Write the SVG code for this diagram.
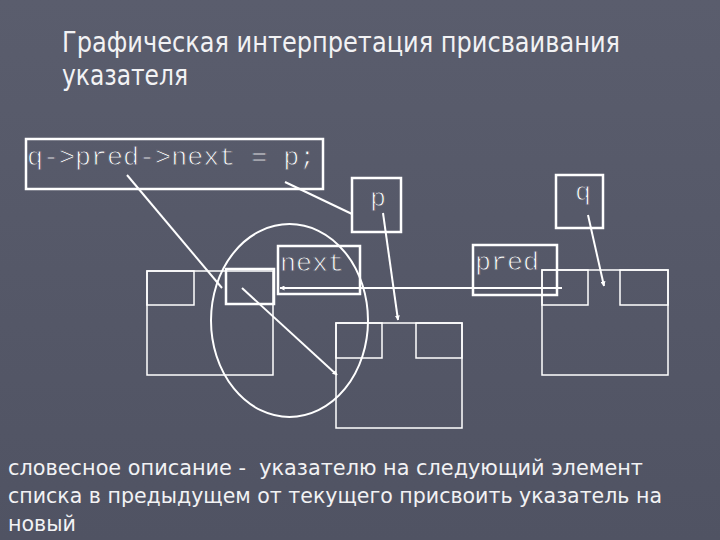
<svg xmlns="http://www.w3.org/2000/svg" width="720" height="540" viewBox="0 0 720 540">
<defs>
<marker id="ah" viewBox="0 0 10 10" refX="9" refY="5" markerWidth="5" markerHeight="5" orient="auto" markerUnits="userSpaceOnUse"><path d="M0,0 L10,5 L0,10 z" fill="#ffffff"/></marker>
<linearGradient id="bg" x1="0" y1="0" x2="0" y2="1"><stop offset="0" stop-color="#5a5d6d"/><stop offset="1" stop-color="#505363"/></linearGradient>
</defs>
<style>
.t{font-family:"DejaVu Sans","Noto Sans",sans-serif;fill:#f2f2f4;}
.m{font-family:"Liberation Mono","Courier New",monospace;fill:#ffffff;font-size:26.7px;stroke:#5a5d6d;stroke-width:0.9px;}
.thin{fill:none;stroke:#ffffff;stroke-width:1.5;}
.thick{fill:none;stroke:#ffffff;stroke-width:2.5;}
.c{stroke:#ffffff;stroke-width:2;fill:none;}
</style>
<rect width="720" height="540" fill="url(#bg)"/>
<g id="title">
<text class="t" x="62" y="52" font-size="28" textLength="558" lengthAdjust="spacingAndGlyphs">Графическая интерпретация присваивания</text>
<text class="t" x="62" y="85" font-size="28" textLength="126" lengthAdjust="spacingAndGlyphs">указателя</text>
</g>
<g id="code">
<rect class="thick" x="26" y="139" width="297" height="50"/>
<text class="m" x="27" y="165">q-&gt;pred-&gt;next = p;</text>
</g>
<g id="p-box">
<rect class="thick" x="352" y="178" width="49" height="54"/>
<text class="m" x="378" y="206" text-anchor="middle">p</text>
</g>
<g id="q-box">
<rect class="thick" x="556" y="175" width="47" height="53"/>
<text class="m" x="583" y="200" text-anchor="middle">q</text>
</g>
<g id="next-label">
<rect class="thick" x="278" y="246" width="82" height="48"/>
<text class="m" x="280" y="271">next</text>
</g>
<g id="pred-label">
<rect class="thick" x="473" y="245" width="84" height="50"/>
<text class="m" x="475" y="270">pred</text>
</g>
<g id="node-left">
<rect class="thin" x="147" y="271" width="126" height="104"/>
<rect class="thin" x="147" y="271" width="47" height="34"/>
<rect class="thick" x="226" y="269" width="48" height="35"/>
</g>
<g id="node-mid">
<rect class="thin" x="336" y="323" width="126" height="105"/>
<rect class="thin" x="336" y="323" width="46" height="35"/>
<rect class="thin" x="416" y="323" width="46" height="35"/>
</g>
<g id="node-right">
<rect class="thin" x="542" y="270" width="126" height="105"/>
<rect class="thin" x="542" y="270" width="46" height="35"/>
<rect class="thin" x="620" y="270" width="48" height="35"/>
</g>
<g id="ellipse">
<ellipse class="c" cx="289.5" cy="320.5" rx="78.5" ry="96.5"/>
</g>
<g id="connectors">
<line class="c" stroke-width="2.5" x1="127" y1="175" x2="222" y2="288"/>
<line class="c" stroke-width="2.5" x1="285" y1="182" x2="352" y2="214"/>
<line class="c" stroke-width="1.5" x1="383" y1="213" x2="398" y2="320" marker-end="url(#ah)"/>
<line class="c" stroke-width="1.5" x1="588" y1="215" x2="604" y2="286" marker-end="url(#ah)"/>
<line class="c" stroke-width="2" x1="562" y1="288" x2="280" y2="288" marker-end="url(#ah)"/>
<line class="c" stroke-width="2" x1="242" y1="288" x2="337" y2="375" marker-end="url(#ah)"/>
</g>
<g id="description">
<text class="t" x="8" y="475" font-size="22" textLength="635" lengthAdjust="spacingAndGlyphs" xml:space="preserve">словесное описание -  указателю на следующий элемент</text>
<text class="t" x="8" y="503" font-size="22" textLength="654" lengthAdjust="spacingAndGlyphs">списка в предыдущем от текущего присвоить указатель на</text>
<text class="t" x="8" y="531" font-size="22" textLength="68" lengthAdjust="spacingAndGlyphs">новый</text>
</g>
</svg>
